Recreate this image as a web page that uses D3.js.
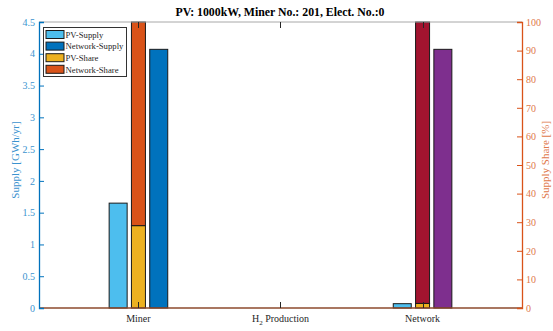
<!DOCTYPE html>
<html>
<head>
<meta charset="utf-8">
<script src="https://cdn.jsdelivr.net/npm/d3@7"></script>
<style>
  html, body { margin: 0; padding: 0; background: #fff; }
  svg { display: block; }
  svg text { font-family: "Liberation Serif", "Times New Roman", serif; }
</style>
</head>
<body>
<svg id="chart" width="553" height="331"></svg>
<script>
// Energy supply per consumer (left axis) and supply share (right axis)
const categories = ["Miner", "H2 Production", "Network"];
const pvSupply = [1.65, 0, 0.068];        // GWh/yr
const networkSupply = [4.07, 0, 4.07];    // GWh/yr
const pvShare = [28.8, 0, 1.6];           // %
const networkShare = [71.2, 0, 98.4];     // %

const supplyTicks = [0, 0.5, 1, 1.5, 2, 2.5, 3, 3.5, 4, 4.5];
const shareTicks = [0, 10, 20, 30, 40, 50, 60, 70, 80, 90, 100];

const legendLabels = ["PV-Supply", "Network-Supply", "PV-Share", "Network-Share"];

// Series colours per category group
const pvSupplyColor = ["#4DBEEE", "#4DBEEE", "#4DBEEE"];
const networkSupplyColor = ["#0072BD", "#0072BD", "#7E2F8E"];
const pvShareColor = ["#EDB120", "#EDB120", "#EDB120"];
const networkShareColor = ["#D95319", "#D95319", "#A2142F"];
const legendColors = ["#4DBEEE", "#0072BD", "#EDB120", "#D95319"];

const svg = d3.select("#chart");
const m = { left: 39, right: 522, top: 22, bottom: 308 };

const x = d3.scaleLinear().domain([0.3, 3.7]).range([m.left, m.right]);
const yL = d3.scaleLinear().domain([0, 4.5]).range([m.bottom, m.top]);
const yR = d3.scaleLinear().domain([0, 100]).range([m.bottom, m.top]);
const unit = x(2) - x(1);

const leftColor = "#0072BD";
const rightColor = "#D95319";
const edge = "#1a1a1a";

const supplyW = 18 / unit, shareW = 14 / unit, offset = 20.3 / unit;

const g = svg.append("g");

// supply bars (left axis)
categories.forEach((c, i) => {
  const cx = i + 1;
  [[pvSupply[i], pvSupplyColor[i], -offset], [networkSupply[i], networkSupplyColor[i], offset]].forEach(([v, col, off]) => {
    g.append("rect")
      .attr("x", x(cx + off - supplyW / 2))
      .attr("width", x(cx + off + supplyW / 2) - x(cx + off - supplyW / 2))
      .attr("y", yL(v))
      .attr("height", Math.max(0, yL(0) - yL(v)))
      .attr("fill", col).attr("stroke", edge).attr("stroke-width", 1);
  });
  // stacked share bar (right axis)
  const x0 = x(cx - shareW / 2), x1 = x(cx + shareW / 2);
  g.append("rect").attr("x", x0).attr("width", x1 - x0)
    .attr("y", yR(pvShare[i])).attr("height", yR(0) - yR(pvShare[i]))
    .attr("fill", pvShareColor[i]).attr("stroke", edge).attr("stroke-width", 1);
  g.append("rect").attr("x", x0).attr("width", x1 - x0)
    .attr("y", yR(pvShare[i] + networkShare[i])).attr("height", yR(pvShare[i]) - yR(pvShare[i] + networkShare[i]))
    .attr("fill", networkShareColor[i]).attr("stroke", edge).attr("stroke-width", 1);
});

// baseline
svg.append("line").attr("x1", m.left).attr("x2", m.right)
  .attr("y1", m.bottom).attr("y2", m.bottom)
  .attr("stroke", "#8c4a2c").attr("stroke-width", 1.3);

// top frame
svg.append("line").attr("x1", m.left).attr("x2", m.right)
  .attr("y1", m.top).attr("y2", m.top)
  .attr("stroke", "#a8a8a8").attr("stroke-width", 1);

// x ticks (inward, bottom and top) and labels
categories.forEach((c, i) => {
  const px = Math.round(x(i + 1)) + 0.5;
  svg.append("line").attr("x1", px).attr("x2", px).attr("y1", m.bottom).attr("y2", m.bottom - 6)
    .attr("stroke", "#262626").attr("stroke-width", 1);
  svg.append("line").attr("x1", px).attr("x2", px).attr("y1", m.top).attr("y2", m.top + 6)
    .attr("stroke", "#262626").attr("stroke-width", 1);
  const t = svg.append("text").attr("x", x(i + 1)).attr("y", 321.5)
    .attr("text-anchor", "middle").attr("font-size", 10).attr("fill", "#262626");
  if (c === "H2 Production") {
    t.append("tspan").text("H");
    t.append("tspan").attr("font-size", 7).attr("dy", 3).text("2");
    t.append("tspan").attr("dy", -3).text(" Production");
  } else {
    t.text(c);
  }
});

// left axis
const axL = svg.append("g").attr("transform", `translate(${m.left},0)`)
  .call(d3.axisLeft(yL).tickValues(supplyTicks).tickSize(-5).tickPadding(4).tickFormat(d3.format("")));
axL.select(".domain").attr("stroke", leftColor).attr("stroke-width", 1.3);
axL.selectAll(".tick line").attr("stroke", leftColor);
axL.selectAll(".tick text").attr("fill", "#3b93cf").attr("font-size", 10);

// right axis
const axR = svg.append("g").attr("transform", `translate(${m.right},0)`)
  .call(d3.axisRight(yR).tickValues(shareTicks).tickSize(-5).tickPadding(4));
axR.select(".domain").attr("stroke", rightColor).attr("stroke-width", 1.3);
axR.selectAll(".tick line").attr("stroke", rightColor);
axR.selectAll(".tick text").attr("fill", "#e0784a").attr("font-size", 10);

// axis titles
svg.append("text").attr("transform", `translate(18.5,160) rotate(-90)`)
  .attr("text-anchor", "middle").attr("font-size", 11).attr("fill", "#3b93cf")
  .text("Supply [GWh/yr]");
svg.append("text").attr("transform", `translate(549,160) rotate(-90)`)
  .attr("text-anchor", "middle").attr("font-size", 11).attr("fill", "#e0784a")
  .text("Supply Share [%]");

// title
svg.append("text").attr("x", 280).attr("y", 16).attr("text-anchor", "middle")
  .attr("font-size", 11.8).attr("font-weight", "bold").attr("fill", "#000")
  .text("PV: 1000kW, Miner No.: 201, Elect. No.:0");

// legend
const lg = svg.append("g");
lg.append("rect").attr("x", 43.5).attr("y", 27.5).attr("width", 83).attr("height", 49)
  .attr("fill", "#fff").attr("stroke", "#333").attr("stroke-width", 1);
legendLabels.forEach((lab, i) => {
  const cy = 34.5 + i * 11.6;
  lg.append("rect").attr("x", 46).attr("y", cy - 4).attr("width", 18).attr("height", 8)
    .attr("fill", legendColors[i]).attr("stroke", edge).attr("stroke-width", 1);
  lg.append("text").attr("x", 65.5).attr("y", cy + 3.2).attr("font-size", 8.7)
    .attr("fill", "#262626").text(lab);
});
</script>
</body>
</html>
